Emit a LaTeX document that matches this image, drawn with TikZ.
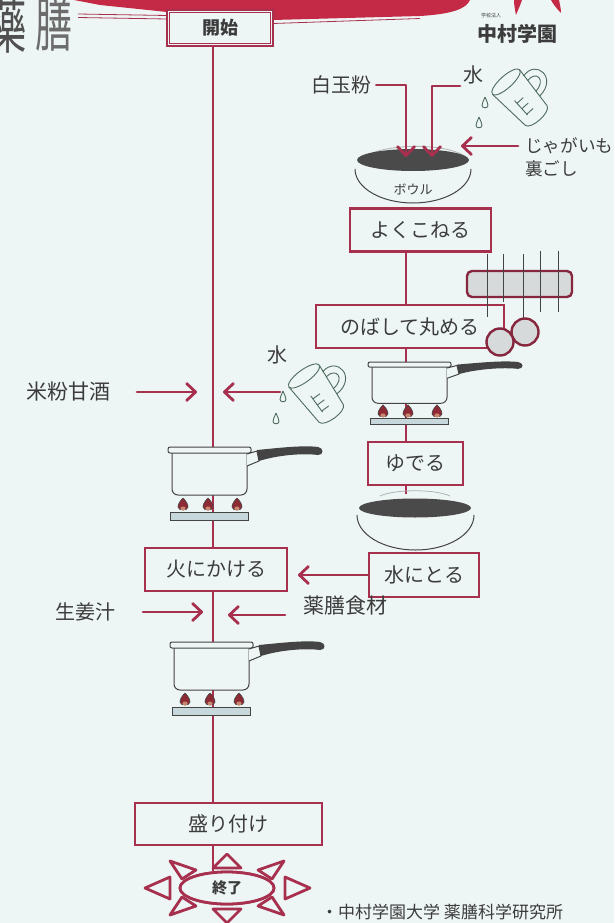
\documentclass[tikz,border=0pt]{standalone}
\usepackage{fontspec}
\setmainfont{Noto Sans CJK JP}
\usetikzlibrary{arrows.meta,shapes.geometric}

\definecolor{paper}{HTML}{EEF6F5}
\definecolor{wine}{HTML}{A8304F}
\definecolor{ink}{HTML}{3C3C3C}
\definecolor{potline}{HTML}{444444}
\definecolor{banner}{HTML}{C42A45}
\definecolor{steel}{HTML}{C6D8DB}
\definecolor{flamered}{HTML}{8E2A35}
\definecolor{flamecore}{HTML}{C9876F}
\definecolor{rackfill}{HTML}{D6DADA}
\definecolor{cupline}{HTML}{4E6B5E}
\definecolor{doughgray}{HTML}{4A4A4A}

\tikzset{
  stepbox/.style={draw=wine, line width=2.8pt, fill=paper, text=ink, inner sep=0pt,
    font=\fontsize{20}{20}\selectfont, minimum height=43pt},
  lbl/.style={text=ink, inner sep=0pt, font=\fontsize{20}{20}\selectfont},
  flow/.style={draw=wine, line width=2.8pt},
  arr/.style={flow, line cap=round, line join=round, -{Straight Barb[length=9pt,width=17pt,round]}},
  ray/.style={draw=wine, line width=2.8pt, line join=round, fill=paper},
  flame/.pic={
    \draw[potline, line width=0.6pt, fill=flamered]
      (0,-7) .. controls (3,-4) and (5,-1) .. (5,2) .. controls (5,6) and (-5,6) .. (-5,2)
      .. controls (-5,-1) and (-3,-4) .. (0,-7);
    \fill[flamecore] (0,3.5) ellipse [x radius=2.6, y radius=2];
  },
  pot/.pic={
    \foreach \fx in {15,40,69} \pic at (\fx,58) {flame};
    \draw[potline, line width=0.8pt, fill=steel] (2,65) rectangle (80,73);
    \draw[potline, line width=1pt, fill=paper, rounded corners=6pt] (4,4) -- (4,48) -- (79,48) -- (79,4);
    \draw[potline, line width=1pt, fill=paper, rounded corners=2pt] (0,0) rectangle (83,6);
    \draw[potline, line width=1pt, fill=paper, line join=round] (79,7) -- (89,4) -- (91,14) -- (79,19);
    \fill[potline] (89,3) .. controls (110,1) and (135,-2) .. (150,0)
      .. controls (156,1) and (156,8) .. (150,8) .. controls (135,6) and (110,8) .. (91,14) -- cycle;
  },
  cup/.pic={
    \begin{scope}[cupline, line width=0.9pt, line join=round]
      \draw[fill=paper] (-15,0) -- (-12,37) .. controls (-11,43) and (11,43) .. (12,37) -- (15,0);
      \draw[fill=paper] (0,0) ellipse [x radius=15, y radius=5];
      \draw (14,6) .. controls (31,2) and (34,26) .. (13,27);
      \draw (14,11) .. controls (25,9) and (26,21) .. (13,22);
      \draw (-5,16) -- (-5,32) (-5,19) -- (2,19) (-5,25) -- (2,25) (-5,31) -- (2,31);
    \end{scope}
  },
  drop/.pic={
    \draw[cupline, line width=0.9pt]
      (0,-6) .. controls (1.5,-2) and (3,0) .. (3,2.5) .. controls (3,5.5) and (-3,5.5) .. (-3,2.5)
      .. controls (-3,0) and (-1.5,-2) .. (0,-6);
  },
}

\begin{document}
\begin{tikzpicture}[x=1pt, y=-1pt]
  \useasboundingbox (0,0) rectangle (614,923);
  \fill[paper] (0,0) rectangle (614,923);

  % ---- header: banner, seal characters, school logo ----
  \fill[banner] (74,0) -- (470,0) .. controls (466,9) and (452,14) .. (420,16)
    -- (273,20) -- (167,12) -- (100,5) -- cycle;
  \draw[wine, line width=0.8pt] (78,14) -- (167,15.5) (78,17.5) -- (167,19);
  \draw[wine, line width=0.8pt] (273,23.5) -- (420,18.5);
  \fill[banner] (514,0) -- (522,0) .. controls (520,6) and (518,10) .. (516,15)
    .. controls (515,10) and (514,5) .. cycle;
  \fill[banner] (551,0) -- (559,0) .. controls (560,5) and (561,9) .. (561,13)
    .. controls (557,9) and (553,4) .. cycle;
  \node[anchor=south, inner sep=0pt, text=ink!90,
        font=\fontsize{60}{60}\selectfont] (sealA) at (8,54) {\scalebox{0.62}[1]{藥}};
  \node[anchor=south, inner sep=0pt, text=gray!85!black,
        font=\fontsize{60}{60}\selectfont] (sealB) at (54,52) {\scalebox{0.62}[1]{膳}};
  \node[inner sep=0pt, text=ink, font=\fontsize{5}{5}\selectfont] (corp) at (491,16) {学校法人};
  \node[inner sep=0pt, text=ink, font=\fontsize{20}{20}\selectfont\bfseries] (school) at (517,34) {中村学園};

  % ---- process boxes ----
  \node[stepbox, minimum width=106pt, minimum height=36pt, font=\fontsize{18}{18}\selectfont\bfseries] (start) at (220,28) {開始};
  \draw[wine, line width=0.8pt] ([shift={(4,4)}]start.north west) rectangle ([shift={(-4,-4)}]start.south east);
  \node[stepbox, minimum width=141pt] (knead) at (420.5,230) {よくこねる};
  \node[stepbox, minimum width=188pt] (roll) at (410,326.5) {のばして丸める\hspace{16pt}};
  \node[stepbox, minimum width=95pt] (boil) at (415.5,463.5) {ゆでる};
  \node[stepbox, minimum width=110pt, minimum height=44pt] (cool) at (424,575) {水にとる};
  \node[stepbox, minimum width=142pt] (heat) at (216,569.5) {火にかける};
  \node[stepbox, minimum width=187pt, minimum height=42pt] (serve) at (228.5,824) {盛り付け};

  % ---- ingredient labels ----
  \node[lbl] (shiratama) at (341,85) {白玉粉};
  \node[lbl] (water1) at (473,75) {水};
  \node[lbl, anchor=west, align=left, font=\fontsize{17.6}{23}\selectfont] (potato) at (525,157) {じゃがいも\\裏ごし};
  \node[lbl, font=\fontsize{13}{13}\selectfont] (bowltxt) at (413,189) {ボウル};
  \node[lbl, font=\fontsize{21}{21}\selectfont] (amazake) at (69,392) {米粉甘酒};
  \node[lbl] (water2) at (277,355) {水};
  \node[lbl] (ginger) at (85,612) {生姜汁};
  \node[lbl, font=\fontsize{21}{21}\selectfont] (herbs) at (345,605) {薬膳食材};
  \node[lbl, anchor=west, font=\fontsize{17}{17}\selectfont] (credit) at (321,912) {・中村学園大学 薬膳科学研究所};

  % ---- connector anchors ----
  \coordinate (mainx) at (213,0);
  \coordinate (sidex) at (406,0);
  \coordinate (rim2) at (406,494);
  \coordinate (k1) at (406,157);
  \coordinate (k2) at (432,157);
  \coordinate (w1) at (460,86);
  \coordinate (p1s) at (518,146);
  \coordinate (p1e) at (461,146);
  \coordinate (a1s) at (137,392);
  \coordinate (a1e) at (197,392);
  \coordinate (a2s) at (280,392);
  \coordinate (a2e) at (223,392);
  \coordinate (g1s) at (143,612);
  \coordinate (g1e) at (203,612);
  \coordinate (h1s) at (285,615);
  \coordinate (h1e) at (228,615);
  \coordinate (c1e) at (298,575);

  % ---- main column ----
  \draw[flow] (start.south -| mainx) -- (heat.north -| mainx);
  \draw[flow] (heat.south -| mainx) -- (serve.north -| mainx);
  \draw[arr] (a1s) -- (a1e);
  \draw[arr] (a2s) -- (a2e);
  \draw[arr] (g1s) -- (g1e);
  \draw[arr] (h1s) -- (h1e);
  \draw[arr] (cool.west) -- (c1e);

  % ---- side column ----
  \draw[flow] (knead.south -| sidex) -- (roll.north -| sidex);
  \draw[flow] (roll.south -| sidex) -- (boil.north -| sidex);
  \draw[flow] (boil.south -| sidex) -- (rim2);

  % mixing bowl
  \draw[gray!60, line width=0.8pt] (361,159) .. controls (380,143) and (446,142) .. (466,157);
  \fill[doughgray] (413,160) ellipse [x radius=56, y radius=11];
  \draw[potline, line width=1pt] (355,169) arc [start angle=180, end angle=360, x radius=58, y radius=-34];
  \draw[arr] (shiratama.east) ++(5,0) -| (k1);
  \draw[arr] (w1) -| (k2);
  \draw[arr] (p1s) -- (p1e);

  % rolling rack and dumplings
  \draw[wine!80!black, line width=2.4pt, fill=rackfill, rounded corners=5pt] (467,271) rectangle (572,297);
  \draw[potline, line width=0.8pt]
    (487,254) -- (487,317) (503,254) -- (503,302) (523,254) -- (523,318)
    (540,251) -- (540,312) (558,251) -- (558,312);
  \draw[wine!80!black, line width=2.4pt, fill=rackfill] (525,332) circle [radius=13.5];
  \draw[wine!80!black, line width=2.4pt, fill=rackfill] (500,342) circle [radius=13.5];

  % pots on burners
  \pic[yscale=0.86] at (368,362) {pot};
  \pic at (168,447) {pot};
  \pic at (170,642) {pot};

  % draining bowl
  \draw[gray!60, line width=0.8pt] (380,496) .. controls (395,489) and (435,489) .. (450,496);
  \fill[doughgray] (415,508) ellipse [x radius=56, y radius=9.5];
  \draw[potline, line width=1pt] (357,515) arc [start angle=180, end angle=360, x radius=58.5, y radius=-35];

  % measuring cups pouring water
  \pic[rotate=42, scale=1.22] at (506,82) {cup};
  \pic at (485,103) {drop};
  \pic at (479,123) {drop};
  \pic[rotate=36, scale=1.25] at (304,376) {cup};
  \pic at (283,397) {drop};
  \pic at (276,419) {drop};

  % ---- finish ----
  \node[ellipse, draw=wine, line width=2.8pt, fill=paper, minimum width=94pt, minimum height=32pt,
        inner sep=0pt, text=ink, font=\fontsize{15}{15}\selectfont\bfseries] (finish) at (227,888) {};
  \draw[flow] (serve.south -| mainx) -- (mainx |- finish.north);
  \begin{scope}[shift={(finish.center)}]
    \draw[ray] (83,0) -- (58,-11) -- (58,11) -- cycle;
    \draw[ray] (-82,0) -- (-57,-11) -- (-57,11) -- cycle;
    \draw[ray] (0,-34) -- (-14,-20) -- (14,-20) -- cycle;
    \draw[ray] (0,35) -- (-14,21) -- (14,21) -- cycle;
    \draw[ray] (57,-27) -- (31,-18) -- (45,-9) -- cycle;
    \draw[ray] (-57,-27) -- (-31,-18) -- (-45,-9) -- cycle;
    \draw[ray] (57,27) -- (31,18) -- (45,9) -- cycle;
    \draw[ray] (-57,27) -- (-31,18) -- (-45,9) -- cycle;
  \end{scope}
  \node[ellipse, draw=wine, line width=2.8pt, fill=paper, minimum width=94pt, minimum height=32pt,
        inner sep=0pt, text=ink, font=\fontsize{15}{15}\selectfont\bfseries] (finishlabel) at (finish.center) {終了};
\end{tikzpicture}
\end{document}
